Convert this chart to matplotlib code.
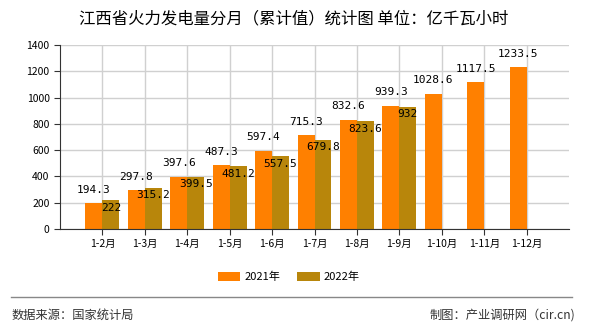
import matplotlib
matplotlib.use("Agg")
import matplotlib.pyplot as plt
import numpy as np

plt.rcParams['font.family'] = ['Noto Sans CJK SC', 'DejaVu Sans']

months = ["1-2月", "1-3月", "1-4月", "1-5月", "1-6月", "1-7月",
          "1-8月", "1-9月", "1-10月", "1-11月", "1-12月"]
vals_2021 = [194.3, 297.8, 397.6, 487.3, 597.4, 715.3, 832.6, 939.3, 1028.6, 1117.5, 1233.5]
vals_2022 = [222, 315.2, 399.5, 481.2, 557.5, 679.8, 823.6, 932]
labels_2021 = ["194.3", "297.8", "397.6", "487.3", "597.4", "715.3", "832.6", "939.3", "1028.6", "1117.5", "1233.5"]
labels_2022 = ["222", "315.2", "399.5", "481.2", "557.5", "679.8", "823.6", "932"]

c21 = "#FF8000"
c22 = "#B8860B"
w = 0.4

fig = plt.figure(figsize=(5.9, 3.3), dpi=100)
ax = fig.add_axes([0.1017, 0.306, 0.8628, 0.5576])

x21 = np.arange(len(vals_2021))
x22 = np.arange(len(vals_2022))
b1 = ax.bar(x21 - w / 2, vals_2021, w, color=c21, label="2021年", zorder=2)
b2 = ax.bar(x22 + w / 2, vals_2022, w, color=c22, label="2022年", zorder=2)

# value labels: 2021 above the bar, 2022 just inside the top
for xi, v, t in zip(x21, vals_2021, labels_2021):
    ax.annotate(t, (xi - w / 2, v), xytext=(0, 6), textcoords="offset points",
                ha="center", va="bottom", fontsize=8, family="DejaVu Sans Mono", zorder=3)
for xi, v, t in zip(x22, vals_2022, labels_2022):
    ax.annotate(t, (xi + w / 2, v), xytext=(0, -2), textcoords="offset points",
                ha="center", va="top", fontsize=8, family="DejaVu Sans Mono", zorder=3)

ax.set_xlim(-1, len(months))
ax.set_ylim(0, 1400)
ax.set_yticks(np.arange(0, 1401, 200))
ax.set_xticks(x21)
ax.set_xticklabels(months)
ax.tick_params(axis="both", labelsize=7.5, length=4, color="#333333")
ax.grid(True, color="#d0d0d0", linewidth=1, zorder=0)
ax.set_axisbelow(True)
for s in ["top", "right"]:
    ax.spines[s].set_visible(False)
for s in ["left", "bottom"]:
    ax.spines[s].set_color("#333333")

fig.text(0.497, 0.942, "江西省火力发电量分月（累计值）统计图 单位：亿千瓦小时",
         ha="center", va="center", fontsize=11.8)

fig.legend(handles=[b1, b2], loc="center", bbox_to_anchor=(0.49, 0.16), ncol=2,
           frameon=False, fontsize=8, handlelength=2, handleheight=0.8,
           columnspacing=1.5, handletextpad=0.4)

fig.add_artist(plt.Line2D([0.018, 0.97], [0.1, 0.1], color="#888888", linewidth=1))
fig.text(0.02, 0.045, "数据来源：国家统计局", ha="left", va="center", fontsize=8.8, color="#333333")
fig.text(0.975, 0.045, "制图：产业调研网（cir.cn)", ha="right", va="center", fontsize=8.8, color="#333333")

fig.savefig("out.png", dpi=100)
